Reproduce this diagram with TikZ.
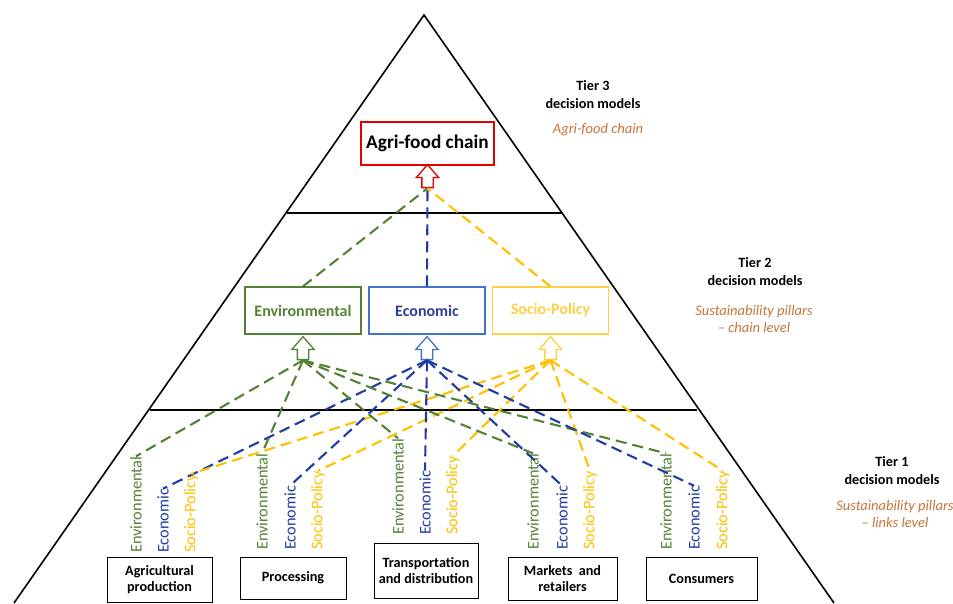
\documentclass[tikz,border=0pt]{standalone}
\usepackage{fontspec}
\setmainfont{Carlito}
\usetikzlibrary{shapes.arrows}

\definecolor{envgreen}{RGB}{84,130,53}
\definecolor{ecoframe}{RGB}{68,114,196}
\definecolor{ecotext}{RGB}{47,62,150}
\definecolor{ecoline}{RGB}{31,60,165}
\definecolor{socyellow}{RGB}{255,192,0}
\definecolor{socframe}{RGB}{255,208,70}
\definecolor{tiernote}{RGB}{200,115,55}
\definecolor{chainred}{RGB}{228,0,0}

\tikzset{
  pillarbox/.style={draw, line width=1.3pt, minimum width=116pt, minimum height=47pt,
    font=\fontsize{16}{18}\selectfont\bfseries},
  linkbox/.style={draw, line width=1pt, align=center, minimum height=43pt,
    font=\fontsize{14.2}{16}\selectfont\bfseries},
  hollow/.style={single arrow, draw, fill=white, line width=1.3pt, shape border rotate=90,
    minimum height=23pt, inner sep=5pt, single arrow head extend=5.5pt,
    single arrow tip angle=82, anchor=tip},
  pillar/.style={rotate=90, anchor=west, inner sep=0pt, font=\fontsize{16.3}{18}\selectfont},
  link/.style={line width=2.1pt, dash pattern=on 11pt off 6pt},
  tiertext/.style={align=center, font=\fontsize{14.2}{18}\selectfont\bfseries},
  tiertag/.style={align=center, text=tiernote, font=\fontsize{14.5}{17}\selectfont\itshape},
}

\begin{document}
\begin{tikzpicture}[x=1pt, y=-1pt]
  \useasboundingbox (0,0) rectangle (953,603);

  % Pyramid and tier borders
  \draw[line width=1.6pt] (14,603) -- (424,15) -- (834,603);
  \draw[line width=1.6pt] (287,213) -- (563,213);
  \draw[line width=1.6pt] (150,410) -- (697,410);

  % Tier 3
  \node[draw=chainred, line width=1.3pt, minimum width=133pt, minimum height=43pt,
    font=\fontsize{19.3}{21}\selectfont\bfseries] (chain) at (427.5,143.5) {Agri-food chain};
  \node[hollow, draw=chainred] (chainup) at ([yshift=2pt]chain.south) {};

  % Tier 2
  \node[pillarbox, draw=envgreen, text=envgreen] (env) at (303,310.5) {Environmental};
  \node[pillarbox, draw=ecoframe, text=ecotext] (eco) at (427,310.5) {Economic};
  \node[pillarbox, draw=socframe, text=socframe] (soc) at (550.5,310.5) {Socio-Policy};
  \node[hollow, draw=envgreen] (envup) at ([yshift=-1pt]env.south) {};
  \node[hollow, draw=ecoframe] (ecoup) at ([yshift=-1pt]eco.south) {};
  \node[hollow, draw=socframe] (socup) at ([yshift=-1pt]soc.south) {};
  \draw[link, envgreen] (env.north) -- (chainup.tail);
  \draw[link, ecoline] (eco.north) -- (chainup.tail);
  \draw[link, socyellow] (soc.north) -- (chainup.tail);

  % Tier 1: chain links
  \node[linkbox, minimum width=105pt, minimum height=45pt] (agri) at (159.5,579.5) {Agricultural\\production};
  \node[linkbox, minimum width=106pt, minimum height=42pt] (proc) at (293,578) {Processing};
  \node[linkbox, minimum width=104pt, minimum height=55pt] (trans) at (426,570.5) {Transportation\\and distribution};
  \node[linkbox, minimum width=109pt] (market) at (562.5,578.5) {Markets\ \ and\\retailers};
  \node[linkbox, minimum width=111pt] (cons) at (701.5,578.5) {Consumers};

  % Tier 1: pillars of each link
  \foreach \link/\xe/\xc/\xs/\yb in {agri/136/163/191/553, proc/262/290/318/550,
      trans/398/425/453/535, market/533/562/590/550, cons/666/694/723/550} {
    \node[pillar, text=envgreen] (\link E) at (\xe,\yb) {Environmental};
    \node[pillar, text=ecoline] (\link C) at (\xc,\yb) {Economic};
    \node[pillar, text=socyellow] (\link S) at (\xs,\yb) {Socio-Policy};
    \draw[link, envgreen] (envup.tail) -- (\link E.east);
    \draw[link, ecoline] (ecoup.tail) -- (\link C.east);
    \draw[link, socyellow] (socup.tail) -- (\link S.east);
  }

  % Tier captions
  \node[tiertext] (tier3) at (593,95) {Tier 3\\decision models};
  \node[tiertag] (tag3) at (598,130) {Agri-food chain};
  \node[tiertext] (tier2) at (755,272) {Tier 2\\decision models};
  \node[tiertag] (tag2) at (754,319.5) {Sustainability pillars\\-- chain level};
  \node[tiertext] (tier1) at (892,471) {Tier 1\\decision models};
  \node[tiertag] (tag1) at (895,514) {Sustainability pillars\\-- links level};
\end{tikzpicture}
\end{document}
